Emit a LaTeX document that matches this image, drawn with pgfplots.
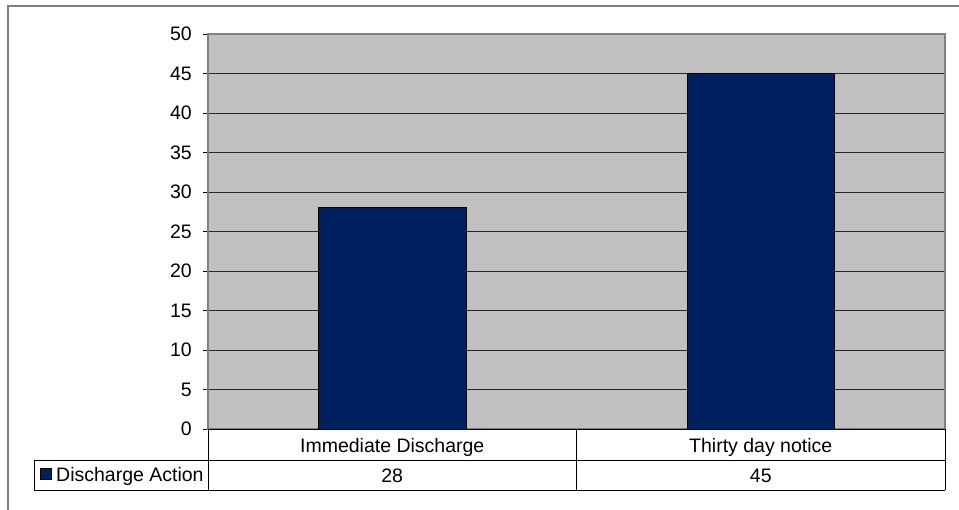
\documentclass[border=0pt]{standalone}
\usepackage{fontspec}
\setmainfont{Liberation Sans}
\usepackage{pgfplots}
\pgfplotsset{compat=1.18}
\definecolor{barnavy}{RGB}{0,32,96}
\definecolor{plotgray}{RGB}{192,192,192}
\definecolor{framegray}{RGB}{128,128,128}

\begin{document}
\begin{tikzpicture}[x=1bp,y=1bp,font=\fontsize{19.5bp}{23bp}\selectfont]
\useasboundingbox (-208,-81) rectangle (751,429);
% chart frame (only top and left edges fall inside the picture)
\draw[framegray,line width=1.5bp] (-200,-81) -- (-200,423) -- (751,423);
\begin{axis}[
  at={(0,0)}, anchor=south west,
  scale only axis, width=737bp, height=395bp,
  xmin=-0.5, xmax=1.5, ymin=0, ymax=50,
  xtick=\empty, ytick={0,5,...,50},
  ytick pos=left,
  axis background/.style={fill=plotgray},
  ymajorgrids, grid style={black!85,line width=0.9bp},
  axis line style={framegray,line width=1.2bp},
  tick align=outside, major tick length=5bp,
  ytick style={black,line width=0.9bp},
  yticklabel style={/pgf/number format/assume math mode=true,
    font=\fontsize{19.5bp}{23bp}\selectfont, inner sep=0pt, xshift=-11bp},
  ybar, bar width=0.4,
]
\addplot[fill=barnavy,draw=black,line width=0.9bp] coordinates {(0,28) (1,45)};
\end{axis}
% data table under the plot area
\begin{scope}[black,line width=0.9bp]
  \draw (0,0) -- (737,0);
  \draw (-174,-31) -- (737,-31);
  \draw (-174,-61) -- (737,-61);
  \draw (-174,-31) -- (-174,-61);
  \draw (0,0) -- (0,-61);
  \draw (368.5,0) -- (368.5,-61);
  \draw (737,0) -- (737,-61);
\end{scope}
\node[anchor=base,inner sep=0pt] at (184.25,-23.7) {Immediate Discharge};
\node[anchor=base,inner sep=0pt] at (552.75,-23.7) {Thirty day notice};
\node[anchor=base,inner sep=0pt] at (184.25,-53.7) {28};
\node[anchor=base,inner sep=0pt] at (552.75,-53.7) {45};
\fill[barnavy,draw=black,line width=0.7bp] (-168,-39) rectangle (-157,-50);
\node[anchor=base west,inner sep=0pt] at (-152,-52.7) {Discharge Action};
\end{tikzpicture}
\end{document}
